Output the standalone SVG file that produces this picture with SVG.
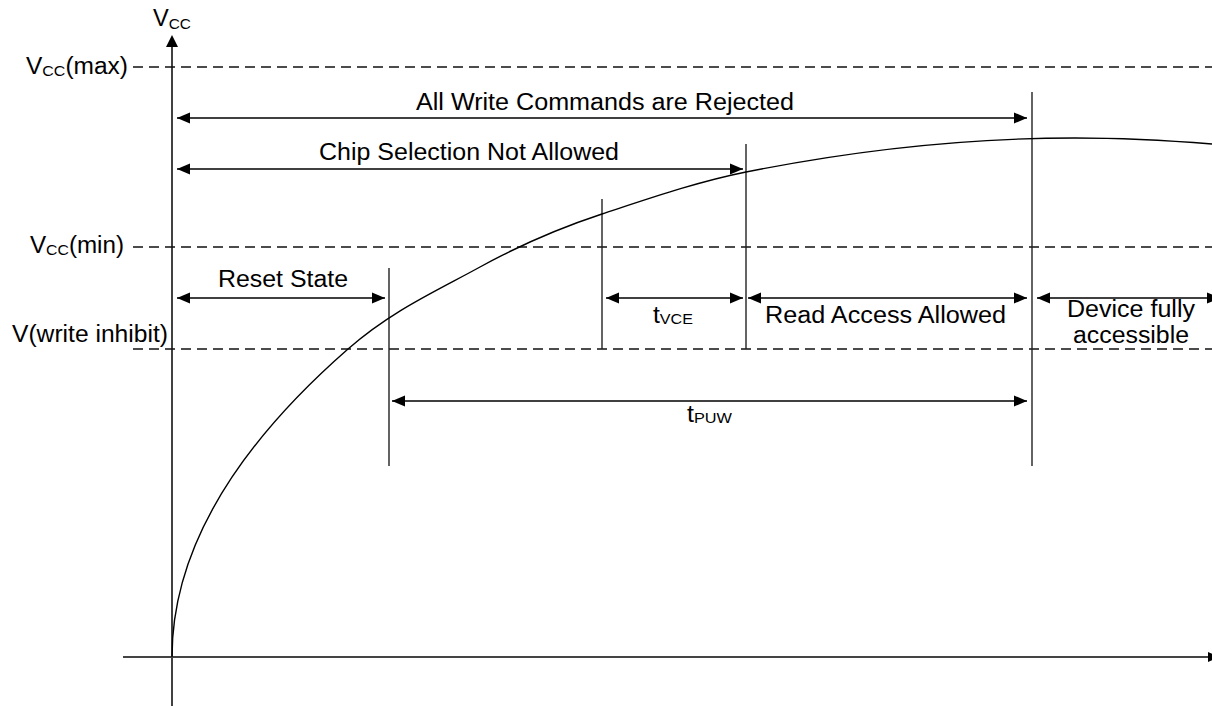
<svg xmlns="http://www.w3.org/2000/svg" width="1212" height="706" viewBox="0 0 1212 706">
<defs>
<style>
text{font-family:"Liberation Sans",Arial,sans-serif;font-size:23px;fill:#000}
.sub{font-size:15px}
.dash{stroke:#111;stroke-width:1.4;stroke-dasharray:10 6;fill:none}
.vline{stroke:#222;stroke-width:1.4;fill:none}
.dim{stroke:#000;stroke-width:1.4;fill:none;marker-start:url(#ah);marker-end:url(#ah)}
</style>
<marker id="ah" markerUnits="userSpaceOnUse" markerWidth="14" markerHeight="12" refX="13" refY="5.5" orient="auto-start-reverse" overflow="visible">
<path d="M0,0 L13,5.5 L0,11 z" fill="#000"/>
</marker>
</defs>
<rect width="1212" height="706" fill="#fff"/>

<g id="axes">
<line x1="172" y1="44" x2="172" y2="706" stroke="#111" stroke-width="1.6"/>
<path d="M172,35 L178,47 L166,47 z" fill="#000"/>
<line x1="123" y1="657" x2="1210" y2="657" stroke="#444" stroke-width="2"/>
<path d="M1208,652 L1220,657 L1208,662 z" fill="#000"/>
</g>

<g id="levels">
<line class="dash" x1="133" y1="67" x2="1212" y2="67"/>
<line class="dash" x1="133" y1="247" x2="1212" y2="247"/>
<line class="dash" x1="133" y1="349" x2="1212" y2="349"/>
</g>

<g id="markers">
<line class="vline" x1="389" y1="268" x2="389" y2="466"/>
<line class="vline" x1="602" y1="199" x2="602" y2="349"/>
<line class="vline" x1="746" y1="144" x2="746" y2="349"/>
<line class="vline" x1="1032" y1="92" x2="1032" y2="466"/>
</g>

<g id="curve">
<path d="M172,657 Q172,503 348,349 C392,310.5 436,291.2 480,267 C520.7,244.6 561.3,227.4 602,214 C650,198.2 698,181.6 746,172 C856,150 965,138 1075,138 C1120,138 1167,140.4 1212,144" fill="none" stroke="#000" stroke-width="1.4"/>
</g>

<g id="connectors">
<line class="dim" x1="177" y1="118" x2="1027" y2="118"/>
<line class="dim" x1="177" y1="169" x2="743" y2="169"/>
<line class="dim" x1="177" y1="298" x2="385" y2="298"/>
<line class="dim" x1="606" y1="298" x2="743" y2="298"/>
<line class="dim" x1="748" y1="298" x2="1027" y2="298"/>
<line class="dim" x1="1037" y1="298" x2="1220" y2="298"/>
<line class="dim" x1="392" y1="401" x2="1027" y2="401"/>
</g>

<g id="axis-labels">
<text x="153" y="26" textLength="38" lengthAdjust="spacingAndGlyphs">V<tspan class="sub" dy="3">CC</tspan></text>
<text x="26" y="74" textLength="102" lengthAdjust="spacingAndGlyphs">V<tspan class="sub" dy="2">CC</tspan><tspan dy="-2">(max)</tspan></text>
<text x="30" y="253" textLength="94" lengthAdjust="spacingAndGlyphs">V<tspan class="sub" dy="2">CC</tspan><tspan dy="-2">(min)</tspan></text>
<text x="12" y="342" textLength="156" lengthAdjust="spacingAndGlyphs">V(write inhibit)</text>
</g>

<g id="label-write-rejected">
<text x="416" y="110" textLength="378" lengthAdjust="spacingAndGlyphs">All Write Commands are Rejected</text>
</g>
<g id="label-chip-selection">
<text x="319" y="160" textLength="300" lengthAdjust="spacingAndGlyphs">Chip Selection Not Allowed</text>
</g>
<g id="label-reset">
<text x="218" y="287" textLength="130" lengthAdjust="spacingAndGlyphs">Reset State</text>
</g>
<g id="label-tvce">
<text x="653" y="323" textLength="40" lengthAdjust="spacingAndGlyphs">t<tspan class="sub" dy="1">VCE</tspan></text>
</g>
<g id="label-read">
<text x="765" y="323" textLength="241" lengthAdjust="spacingAndGlyphs">Read Access Allowed</text>
</g>
<g id="label-device">
<text x="1067" y="317" textLength="128" lengthAdjust="spacingAndGlyphs">Device fully</text>
<text x="1073" y="343" textLength="116" lengthAdjust="spacingAndGlyphs">accessible</text>
</g>
<g id="label-tpuw">
<text x="687" y="422" textLength="45" lengthAdjust="spacingAndGlyphs">t<tspan class="sub" dy="1">PUW</tspan></text>
</g>
</svg>
